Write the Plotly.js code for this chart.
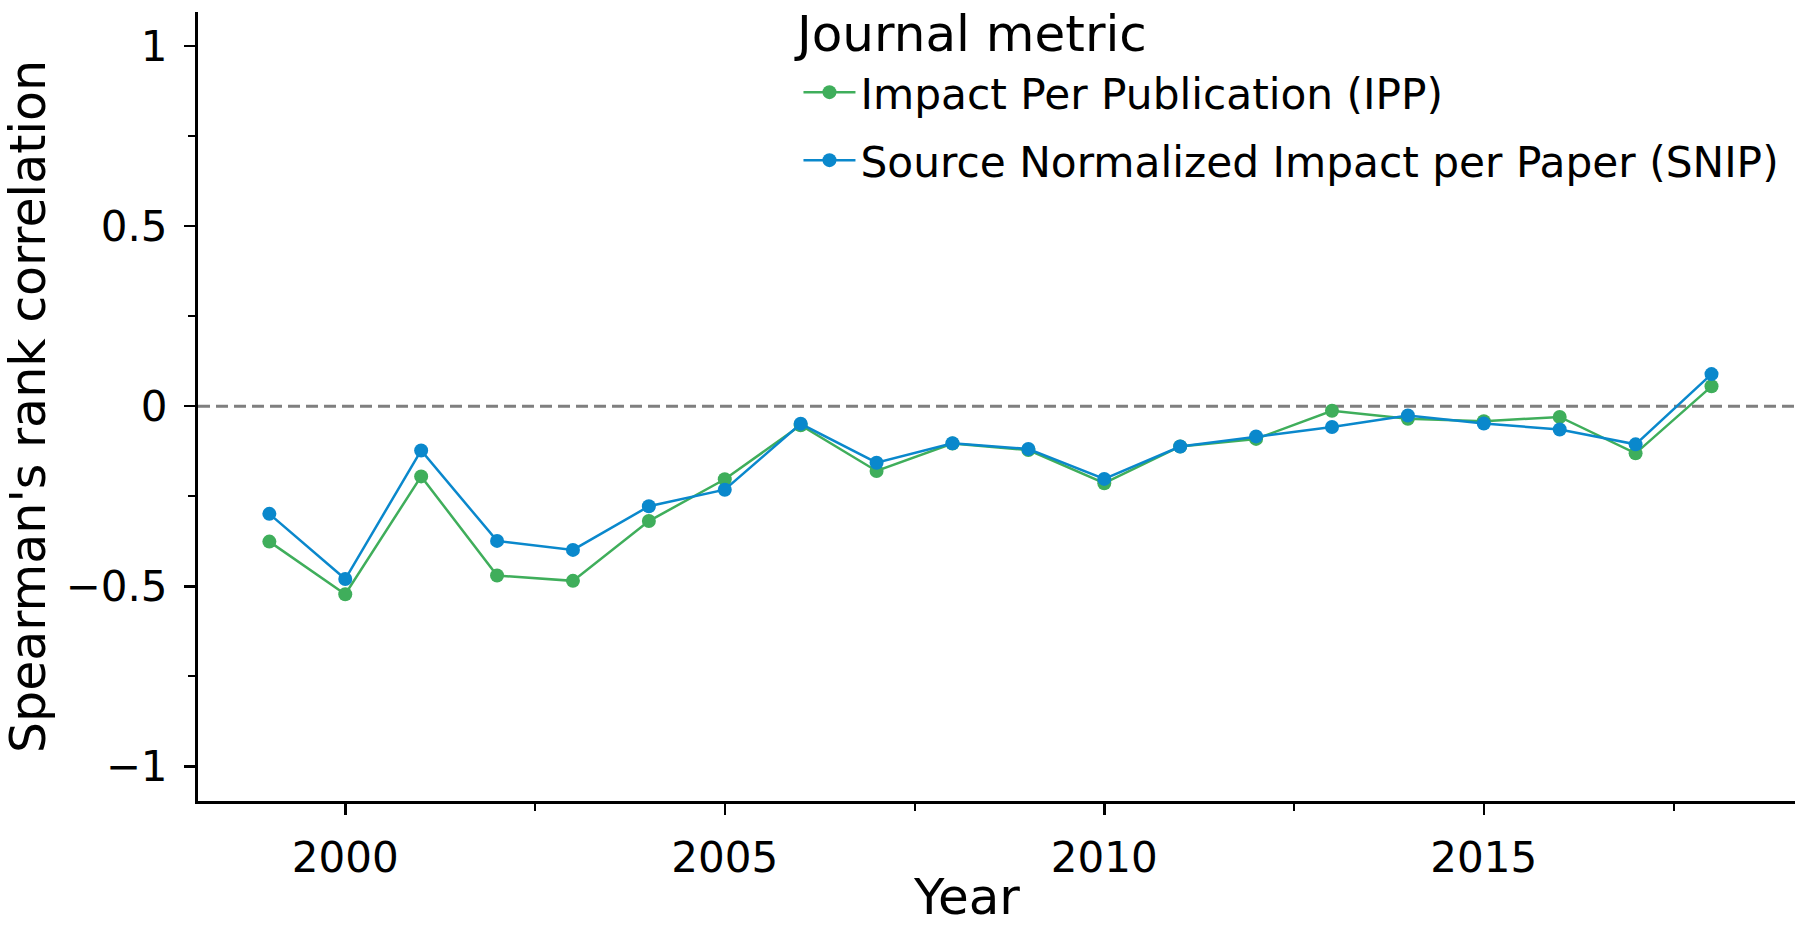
<!DOCTYPE html>
<html>
<head>
<meta charset="utf-8">
<script src="https://cdn.plot.ly/plotly-3.0.1.min.js"></script>
<style>html,body{margin:0;padding:0;background:#fff;} #chart{width:1800px;height:927px;}</style>
</head>
<body>
<div id="chart"></div>
<script>
const years = [1999, 2000, 2001, 2002, 2003, 2004, 2005, 2006, 2007, 2008, 2009, 2010, 2011, 2012, 2013, 2014, 2015, 2016, 2017, 2018];
const ipp = [-0.376, -0.522, -0.195, -0.470, -0.485, -0.319, -0.203, -0.053, -0.180, -0.104, -0.122, -0.214, -0.112, -0.091, -0.013, -0.035, -0.042, -0.030, -0.131, 0.055];
const snip = [-0.299, -0.480, -0.123, -0.374, -0.399, -0.278, -0.232, -0.049, -0.157, -0.103, -0.119, -0.202, -0.112, -0.084, -0.058, -0.026, -0.048, -0.065, -0.106, 0.089];
const seriesNames = ["Impact Per Publication (IPP)", "Source Normalized Impact per Paper (SNIP)"];
const legendTitle = "Journal metric";
const xTitle = "Year";
const yTitle = "Spearman's rank correlation";
const xTickVals = [2000, 2005, 2010, 2015];
const xTickText = ["2000", "2005", "2010", "2015"];
const yTickVals = [-1, -0.5, 0, 0.5, 1];
const yTickText = ["\u22121", "\u22120.5", "0", "0.5", "1"];

const green = "#3fae5b";
const blue = "#0a88cc";

const traces = [
  {x: years, y: ipp, name: seriesNames[0], type: "scatter", mode: "lines+markers",
   legendgroup: "a",
   line: {color: green, width: 2.5}, marker: {color: green, size: 14}},
  {x: years, y: snip, name: seriesNames[1], type: "scatter", mode: "lines+markers",
   legendgroup: "b",
   line: {color: blue, width: 2.5}, marker: {color: blue, size: 14}}
];

const layout = {
  width: 1800, height: 927,
  paper_bgcolor: "#fff", plot_bgcolor: "#fff",
  font: {family: "DejaVu Sans", color: "#000", size: 42},
  margin: {l: 198, r: 5, t: 12, b: 126, pad: 0},
  showlegend: true,
  legend: {
    x: 0.376, y: 0.9415, xanchor: "left", yanchor: "top",
    bgcolor: "rgba(255,255,255,0)",
    font: {size: 42.3, family: "DejaVu Sans"},
    tracegroupgap: 10,
    itemwidth: 52
  },
  annotations: [
    {text: legendTitle, xref: "paper", yref: "paper", x: 0.372, y: 0.9715,
     xanchor: "left", yanchor: "middle", showarrow: false,
     font: {size: 50, family: "DejaVu Sans", color: "#000"}},
    {text: xTitle, xref: "paper", yref: "paper", x: 0.4812, y: -0.1217,
     xanchor: "center", yanchor: "middle", showarrow: false,
     font: {size: 50, family: "DejaVu Sans", color: "#000"}}
  ],
  xaxis: {
    range: [1998.06, 2019.1],
    tickvals: xTickVals, ticktext: xTickText,
    ticks: "outside", ticklen: 11, tickwidth: 2.5, tickcolor: "#000",
    minor: {dtick: 2.5, tick0: 2000, ticks: "outside", ticklen: 7, tickwidth: 2, tickcolor: "#000", showgrid: false},
    showgrid: false, zeroline: false,
    showline: true, linecolor: "#000", linewidth: 3,
    tickfont: {size: 42},
    ticklabelstandoff: 7
  },
  yaxis: {
    range: [-1.096, 1.094],
    tickvals: yTickVals, ticktext: yTickText,
    ticks: "outside", ticklen: 11, tickwidth: 2.5, tickcolor: "#000",
    minor: {dtick: 0.25, tick0: 0, ticks: "outside", ticklen: 7, tickwidth: 2, tickcolor: "#000", showgrid: false},
    showgrid: false, zeroline: false,
    showline: true, linecolor: "#000", linewidth: 3,
    tickfont: {size: 42},
    ticklabelstandoff: 8,
    title: {text: yTitle, font: {size: 49}, standoff: 16}
  },
  shapes: [
    {type: "line", xref: "paper", x0: 0, x1: 1, yref: "y", y0: 0, y1: 0,
     line: {color: "#7f7f7f", width: 3, dash: "12px,6px"}, layer: "below"}
  ]
};

Plotly.newPlot("chart", traces, layout, {displayModeBar: false, staticPlot: true});
</script>
</body>
</html>
